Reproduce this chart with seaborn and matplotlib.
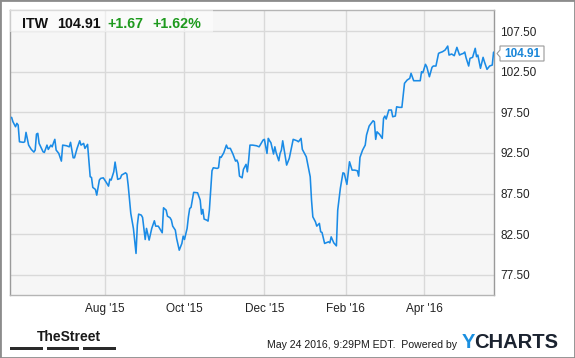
import matplotlib
matplotlib.use("Agg")
import matplotlib.pyplot as plt
import seaborn as sns
import pandas as pd
from matplotlib.patches import Rectangle, Polygon

# ---------------- data ----------------
ticker = "ITW"
last_price = "104.91"
change_abs = "+1.67"
change_pct = "+1.62%"
stamp = "May 24 2016, 9:29PM EDT.  Powered by"

dates = [
    "2015-05-22", "2015-05-23", "2015-05-25", "2015-05-26", "2015-05-27", "2015-05-28", "2015-05-31",
    "2015-06-01", "2015-06-02", "2015-06-04", "2015-06-06", "2015-06-08", "2015-06-09", "2015-06-10",
    "2015-06-11", "2015-06-12", "2015-06-15", "2015-06-16", "2015-06-18", "2015-06-19", "2015-06-21",
    "2015-06-22", "2015-06-23", "2015-06-24", "2015-06-25", "2015-06-27", "2015-06-29", "2015-06-30",
    "2015-07-03", "2015-07-05", "2015-07-06", "2015-07-08", "2015-07-09", "2015-07-11", "2015-07-13",
    "2015-07-14", "2015-07-16", "2015-07-17", "2015-07-19", "2015-07-21", "2015-07-22", "2015-07-23",
    "2015-07-25", "2015-07-26", "2015-07-28", "2015-07-29", "2015-07-31", "2015-08-02", "2015-08-04",
    "2015-08-05", "2015-08-06", "2015-08-08", "2015-08-09", "2015-08-11", "2015-08-13", "2015-08-14",
    "2015-08-17", "2015-08-18", "2015-08-19", "2015-08-21", "2015-08-23", "2015-08-25", "2015-08-26",
    "2015-08-27", "2015-08-29", "2015-08-30", "2015-09-01", "2015-09-02", "2015-09-04", "2015-09-06",
    "2015-09-08", "2015-09-09", "2015-09-11", "2015-09-12", "2015-09-14", "2015-09-15", "2015-09-17",
    "2015-09-18", "2015-09-20", "2015-09-21", "2015-09-22", "2015-09-24", "2015-09-25", "2015-09-27",
    "2015-09-29", "2015-09-30", "2015-10-01", "2015-10-03", "2015-10-04", "2015-10-05", "2015-10-06",
    "2015-10-08", "2015-10-11", "2015-10-13", "2015-10-14", "2015-10-15", "2015-10-16", "2015-10-18",
    "2015-10-19", "2015-10-20", "2015-10-22", "2015-10-23", "2015-10-26", "2015-10-27", "2015-10-28",
    "2015-10-29", "2015-10-31", "2015-11-02", "2015-11-03", "2015-11-05", "2015-11-07", "2015-11-09",
    "2015-11-10", "2015-11-11", "2015-11-12", "2015-11-14", "2015-11-15", "2015-11-17", "2015-11-18",
    "2015-11-19", "2015-11-20", "2015-11-22", "2015-11-25", "2015-11-27", "2015-11-30", "2015-12-01",
    "2015-12-03", "2015-12-04", "2015-12-05", "2015-12-06", "2015-12-08", "2015-12-09", "2015-12-10",
    "2015-12-12", "2015-12-13", "2015-12-14", "2015-12-15", "2015-12-17", "2015-12-18", "2015-12-20",
    "2015-12-23", "2015-12-26", "2015-12-27", "2015-12-29", "2015-12-30", "2016-01-02", "2016-01-03",
    "2016-01-05", "2016-01-06", "2016-01-07", "2016-01-09", "2016-01-10", "2016-01-12", "2016-01-13",
    "2016-01-14", "2016-01-16", "2016-01-17", "2016-01-19", "2016-01-20", "2016-01-21", "2016-01-23",
    "2016-01-25", "2016-01-26", "2016-01-28", "2016-01-30", "2016-01-31", "2016-02-02", "2016-02-04",
    "2016-02-06", "2016-02-08", "2016-02-10", "2016-02-11", "2016-02-12", "2016-02-14", "2016-02-16",
    "2016-02-17", "2016-02-19", "2016-02-22", "2016-02-23", "2016-02-24", "2016-02-25", "2016-02-27",
    "2016-02-29", "2016-03-01", "2016-03-02", "2016-03-03", "2016-03-05", "2016-03-07", "2016-03-08",
    "2016-03-10", "2016-03-11", "2016-03-13", "2016-03-15", "2016-03-17", "2016-03-19", "2016-03-21",
    "2016-03-22", "2016-03-24", "2016-03-29", "2016-03-30", "2016-03-31", "2016-04-02", "2016-04-03",
    "2016-04-04", "2016-04-05", "2016-04-07", "2016-04-08", "2016-04-10", "2016-04-12", "2016-04-13",
    "2016-04-15", "2016-04-17", "2016-04-19", "2016-04-20", "2016-04-22", "2016-04-24", "2016-04-26",
    "2016-04-28", "2016-04-29", "2016-05-01", "2016-05-02", "2016-05-03", "2016-05-05", "2016-05-06",
    "2016-05-08", "2016-05-10", "2016-05-11", "2016-05-12", "2016-05-14", "2016-05-16", "2016-05-17",
    "2016-05-19", "2016-05-21", "2016-05-23", "2016-05-24",
]

prices = [
    96.88, 96.34, 95.72, 96.14, 95.93, 93.87, 93.80,
    93.87, 95.03, 93.46, 92.93, 92.60, 92.85, 94.82,
    94.91, 93.67, 92.64, 92.56, 93.46, 92.93, 93.46,
    93.25, 93.75, 94.17, 92.85, 92.44, 91.49, 93.46,
    93.38, 93.25, 93.80, 91.90, 91.90, 93.06, 93.99,
    93.46, 93.67, 93.06, 93.55, 89.56, 89.48, 88.25,
    88.00, 87.30, 89.15, 89.36, 89.43, 88.94, 88.41,
    89.27, 89.15, 90.17, 91.37, 89.24, 89.36, 89.77,
    90.05, 89.89, 88.53, 85.05, 83.20, 80.12, 83.61,
    84.96, 84.84, 84.55, 81.84, 83.20, 81.76, 83.20,
    84.14, 83.48, 83.48, 83.20, 82.66, 85.74, 85.45,
    84.71, 84.51, 84.22, 83.48, 82.99, 81.97, 80.52,
    81.35, 82.25, 81.84, 83.20, 84.63, 85.66, 85.79,
    87.64, 87.59, 86.69, 84.96, 85.54, 84.35, 84.22,
    84.10, 85.45, 90.30, 90.67, 90.59, 90.67, 92.02,
    91.95, 92.52, 93.46, 93.06, 93.06, 92.36, 91.49,
    91.62, 91.21, 89.64, 89.43, 90.47, 91.09, 90.17,
    91.62, 93.46, 93.46, 93.38, 93.25, 94.08, 94.17,
    92.44, 94.29, 93.99, 93.75, 92.36, 93.25, 92.52,
    91.53, 92.44, 92.85, 93.99, 91.95, 91.00, 91.82,
    94.17, 93.99, 93.87, 94.29, 92.93, 92.02, 91.21,
    89.56, 86.69, 84.63, 84.01, 83.48, 83.82, 82.78,
    82.71, 81.35, 81.42, 81.55, 81.42, 82.16, 81.42,
    81.05, 85.45, 88.13, 90.05, 89.98, 88.62, 91.41,
    90.38, 90.38, 90.30, 89.64, 91.95, 92.85, 93.46,
    94.70, 95.81, 96.46, 96.34, 94.17, 95.10, 94.78,
    94.29, 96.75, 97.04, 96.67, 97.78, 97.78, 96.95,
    97.04, 98.18, 98.11, 98.11, 101.07, 101.47, 101.68,
    102.30, 101.39, 101.39, 102.50, 102.37, 103.41, 103.11,
    102.50, 101.88, 103.04, 103.20, 103.20, 104.76, 104.84,
    104.96, 105.17, 105.66, 104.55, 104.68, 104.47, 105.50,
    104.55, 104.64, 104.76, 104.92, 104.22, 103.20, 104.15,
    104.27, 105.38, 104.35, 104.55, 102.92, 104.27, 103.73,
    102.79, 103.20, 103.32, 104.91,
]

y_ticks = [77.5, 82.5, 87.5, 92.5, 97.5, 102.5, 107.5]
x_tick_dates = ["2015-08-01", "2015-10-01", "2015-12-01", "2016-02-01", "2016-04-01"]
x_tick_labels = ["Aug '15", "Oct '15", "Dec '15", "Feb '16", "Apr '16"]
logo_left = "Y"
logo_right = "CHARTS"

# ---------------- style ----------------
sns.set_style("white")
plt.rcParams["font.family"] = ["Liberation Sans", "DejaVu Sans"]

W, H = 575, 358
fig = plt.figure(figsize=(W / 100, H / 100), dpi=100)
fig.patch.set_facecolor("white")


def fx(x):
    return x / W


def fy(y):
    return 1 - y / H


L, R, T, B = 10.3, 494.0, 10.0, 295.0
ax = fig.add_axes([fx(L), fy(B), (R - L) / W, (B - T) / H])

df = pd.DataFrame({"date": pd.to_datetime(dates), "price": prices})
sns.lineplot(data=df, x="date", y="price", ax=ax, color="#1a8be6",
             linewidth=1.15, zorder=3)

ax.set_facecolor("#f6f6f6")
ax.set_xlim(pd.Timestamp("2015-05-21"), pd.Timestamp("2016-05-24 08:00"))
ax.set_ylim(75.0, 110.1)
ax.yaxis.tick_right()
ax.set_yticks(y_ticks)
ax.set_yticklabels([f"{v:.2f}" for v in y_ticks])
ax.set_xticks(pd.to_datetime(x_tick_dates))
ax.set_xticklabels(x_tick_labels)
ax.grid(True, color="#d9d9d9", linewidth=1.0, zorder=0)
ax.set_axisbelow(True)
ax.tick_params(axis="both", length=0, labelsize=8.5, colors="#222222")
ax.tick_params(axis="y", pad=4.5)
ax.tick_params(axis="x", pad=5.5)
ax.set_xlabel("")
ax.set_ylabel("")
for side, sp in ax.spines.items():
    sp.set_visible(True)
    sp.set_color("#b5b5b5")
    sp.set_linewidth(1.0)
ax.spines["left"].set_color("#9a9a9a")
ax.spines["right"].set_color("#9a9a9a")

# header box
fig.add_artist(Rectangle((fx(L), fy(32)), (213 - L) / W, 22 / H,
                         transform=fig.transFigure, facecolor="white",
                         alpha=0.5, edgecolor="none", zorder=5))
hdr_y = fy(28.3)
fig.text(fx(21.7), hdr_y, ticker, fontsize=10.3, fontweight="bold",
         color="#111111", va="baseline", zorder=6)
fig.text(fx(56.7), hdr_y, last_price, fontsize=10.3, fontweight="bold",
         color="#111111", va="baseline", zorder=6)
fig.text(fx(107.5), hdr_y, change_abs, fontsize=10.3, fontweight="bold",
         color="#1e9a1e", va="baseline", zorder=6)
fig.text(fx(152.7), hdr_y, change_pct, fontsize=10.3, fontweight="bold",
         color="#1e9a1e", va="baseline", zorder=6)

# last price tag
tag = Polygon([(fx(500), fy(46)), (fx(544), fy(46)), (fx(544), fy(61)),
               (fx(500), fy(61)), (fx(500), fy(57)), (fx(497), fy(53.5)),
               (fx(500), fy(50))], closed=True, transform=fig.transFigure,
              facecolor="white", edgecolor="#9a9a9a", linewidth=0.8, zorder=6)
fig.add_artist(tag)
fig.text(fx(522), fy(53.8), last_price, fontsize=8.5, fontweight="bold",
         color="#1a86d8", ha="center", va="center", zorder=7)

# footer: TheStreet logo
fig.text(fx(36.5), fy(341), "TheStreet", fontsize=10, fontweight="bold",
         color="#1a1a1a", va="baseline")
for x0, x1 in [(10, 42.7), (46.7, 79), (83.3, 115.7)]:
    fig.add_artist(Rectangle((fx(x0), fy(350)), (x1 - x0) / W, 2.6 / H,
                             transform=fig.transFigure, facecolor="#2a2a2a",
                             edgecolor="none"))

fig.text(fx(457), fy(348.3), stamp, fontsize=7.6, color="#1a1a1a",
         ha="right", va="baseline")
ty = fig.text(fx(462), fy(348.3), logo_left, fontsize=14.5, fontweight="bold",
              color="#1a8fe0", va="baseline")
renderer = fig.canvas.get_renderer()
bb = ty.get_window_extent(renderer)
fig.text((bb.x1 - 1.2) / W, fy(348.3), logo_right, fontsize=14.5,
         fontweight="bold", color="#1b2330", va="baseline")

# outer border
fig.add_artist(Rectangle((0, 0), 1, 1, transform=fig.transFigure,
                         fill=False, edgecolor="#8c8c8c", linewidth=2.0))

fig.savefig("out.png", dpi=100)
